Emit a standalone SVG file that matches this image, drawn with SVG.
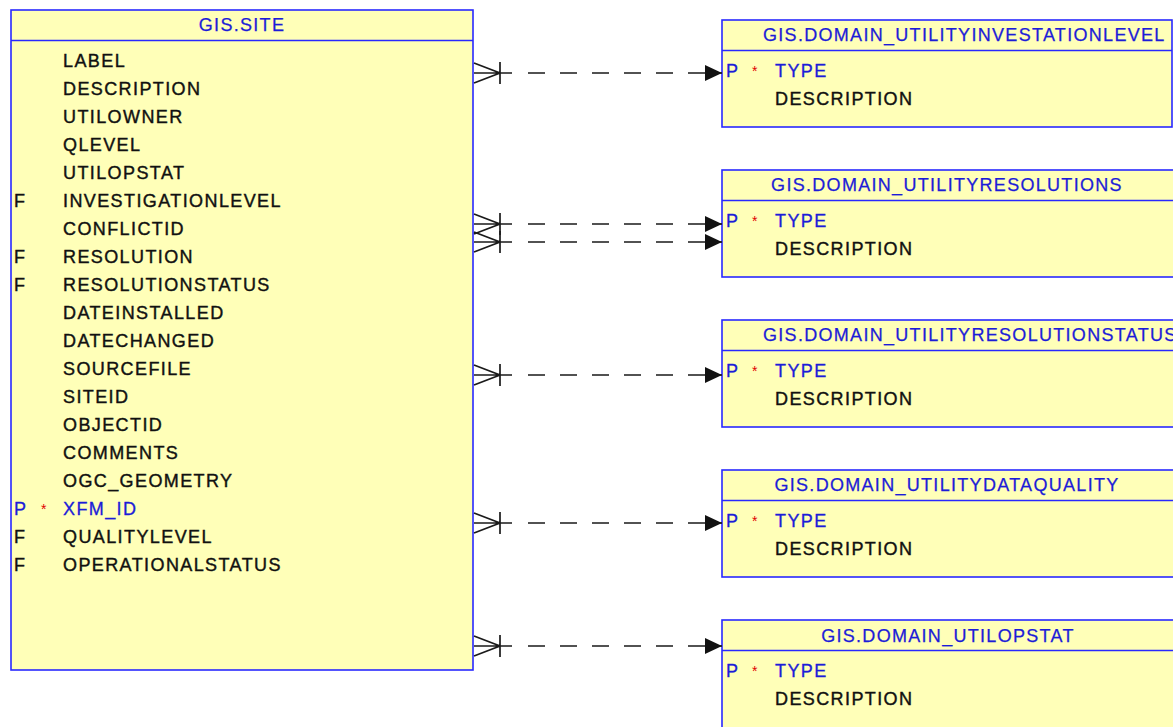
<svg xmlns="http://www.w3.org/2000/svg" width="1173" height="727" viewBox="0 0 1173 727">
<style>
.box{fill:#ffffb8;stroke:#2828ff;stroke-width:1.6}
.div{stroke:#2828ff;stroke-width:1.6}
text{font-family:"Liberation Sans",Arial,sans-serif;font-size:18px;letter-spacing:1.4px}
.t{fill:#1c1cd8;stroke:#1c1cd8;stroke-width:0.25;letter-spacing:1.3px}
.f{fill:#111;stroke:#111;stroke-width:0.4}
.k{fill:#1c1cd8;stroke:#1c1cd8;stroke-width:0.3}
.s{fill:#e00000;font-size:14px}
.c{stroke:#1a1a1a;stroke-width:1.7;fill:none}
.d{stroke:#1a1a1a;stroke-width:1.7;fill:none;stroke-dasharray:17 15}
</style>
<defs>
<marker id="arr" markerWidth="18" markerHeight="18" refX="17" refY="9" orient="auto" markerUnits="userSpaceOnUse">
<path d="M0,1 L17,9 L0,17 Z" fill="#111"/>
</marker>
</defs>
<rect width="1173" height="727" fill="#fff"/>
<g id="site">
<rect class="box" x="11" y="10" width="462" height="660"/>
<line class="div" x1="11" y1="40.5" x2="473" y2="40.5"/>
<text class="t" x="242" y="31" text-anchor="middle">GIS.SITE</text>
<text class="f" x="63" y="67">LABEL</text>
<text class="f" x="63" y="95">DESCRIPTION</text>
<text class="f" x="63" y="123">UTILOWNER</text>
<text class="f" x="63" y="151">QLEVEL</text>
<text class="f" x="63" y="179">UTILOPSTAT</text>
<text class="f" x="14" y="207">F</text><text class="f" x="63" y="207">INVESTIGATIONLEVEL</text>
<text class="f" x="63" y="235">CONFLICTID</text>
<text class="f" x="14" y="263">F</text><text class="f" x="63" y="263">RESOLUTION</text>
<text class="f" x="14" y="291">F</text><text class="f" x="63" y="291">RESOLUTIONSTATUS</text>
<text class="f" x="63" y="319">DATEINSTALLED</text>
<text class="f" x="63" y="347">DATECHANGED</text>
<text class="f" x="63" y="375">SOURCEFILE</text>
<text class="f" x="63" y="403">SITEID</text>
<text class="f" x="63" y="431">OBJECTID</text>
<text class="f" x="63" y="459">COMMENTS</text>
<text class="f" x="63" y="487">OGC_GEOMETRY</text>
<text class="k" x="14" y="515">P</text><text class="s" x="41" y="514">*</text><text class="k" x="63" y="515">XFM_ID</text>
<text class="f" x="14" y="543">F</text><text class="f" x="63" y="543">QUALITYLEVEL</text>
<text class="f" x="14" y="571">F</text><text class="f" x="63" y="571">OPERATIONALSTATUS</text>
</g>
<g id="d1">
<rect class="box" x="722" y="20" width="450" height="107"/>
<line class="div" x1="722" y1="50.5" x2="1172" y2="50.5"/>
<text class="t" x="763" y="41">GIS.DOMAIN_UTILITYINVESTATIONLEVEL</text>
<text class="k" x="726" y="77">P</text><text class="s" x="752" y="76">*</text><text class="k" x="775" y="77">TYPE</text>
<text class="f" x="775" y="105">DESCRIPTION</text>
</g>
<g id="d2">
<rect class="box" x="722" y="170" width="452" height="107"/>
<line class="div" x1="722" y1="200.5" x2="1173" y2="200.5"/>
<text class="t" x="947" y="191" text-anchor="middle">GIS.DOMAIN_UTILITYRESOLUTIONS</text>
<text class="k" x="726" y="227">P</text><text class="s" x="752" y="226">*</text><text class="k" x="775" y="227">TYPE</text>
<text class="f" x="775" y="255">DESCRIPTION</text>
</g>
<g id="d3">
<rect class="box" x="722" y="320" width="452" height="107"/>
<line class="div" x1="722" y1="350.5" x2="1173" y2="350.5"/>
<text class="t" x="763" y="341">GIS.DOMAIN_UTILITYRESOLUTIONSTATUS</text>
<text class="k" x="726" y="377">P</text><text class="s" x="752" y="376">*</text><text class="k" x="775" y="377">TYPE</text>
<text class="f" x="775" y="405">DESCRIPTION</text>
</g>
<g id="d4">
<rect class="box" x="722" y="470" width="452" height="107"/>
<line class="div" x1="722" y1="500.5" x2="1173" y2="500.5"/>
<text class="t" x="947" y="491" text-anchor="middle">GIS.DOMAIN_UTILITYDATAQUALITY</text>
<text class="k" x="726" y="527">P</text><text class="s" x="752" y="526">*</text><text class="k" x="775" y="527">TYPE</text>
<text class="f" x="775" y="555">DESCRIPTION</text>
</g>
<g id="d5">
<rect class="box" x="722" y="620" width="452" height="120"/>
<line class="div" x1="722" y1="650.5" x2="1173" y2="650.5"/>
<text class="t" x="948" y="642" text-anchor="middle">GIS.DOMAIN_UTILOPSTAT</text>
<text class="k" x="726" y="677">P</text><text class="s" x="752" y="676">*</text><text class="k" x="775" y="677">TYPE</text>
<text class="f" x="775" y="705">DESCRIPTION</text>
</g>
<g id="connectors">
<g transform="translate(0,73)">
<path class="c" d="M474,-10 L500,0 L474,10 M474,0 L512,0 M500,-11 L500,11"/>
<line class="d" x1="528" y1="0" x2="722" y2="0" marker-end="url(#arr)"/>
</g>
<g transform="translate(0,224)">
<path class="c" d="M474,-10 L500,0 L474,10 M474,0 L512,0 M500,-11 L500,11"/>
<line class="d" x1="528" y1="0" x2="722" y2="0" marker-end="url(#arr)"/>
</g>
<g transform="translate(0,242)">
<path class="c" d="M474,-10 L500,0 L474,10 M474,0 L512,0 M500,-11 L500,11"/>
<line class="d" x1="528" y1="0" x2="722" y2="0" marker-end="url(#arr)"/>
</g>
<g transform="translate(0,375)">
<path class="c" d="M474,-10 L500,0 L474,10 M474,0 L512,0 M500,-11 L500,11"/>
<line class="d" x1="528" y1="0" x2="722" y2="0" marker-end="url(#arr)"/>
</g>
<g transform="translate(0,523)">
<path class="c" d="M474,-10 L500,0 L474,10 M474,0 L512,0 M500,-11 L500,11"/>
<line class="d" x1="528" y1="0" x2="722" y2="0" marker-end="url(#arr)"/>
</g>
<g transform="translate(0,646)">
<path class="c" d="M474,-10 L500,0 L474,10 M474,0 L512,0 M500,-11 L500,11"/>
<line class="d" x1="528" y1="0" x2="722" y2="0" marker-end="url(#arr)"/>
</g>
</g>
</svg>
